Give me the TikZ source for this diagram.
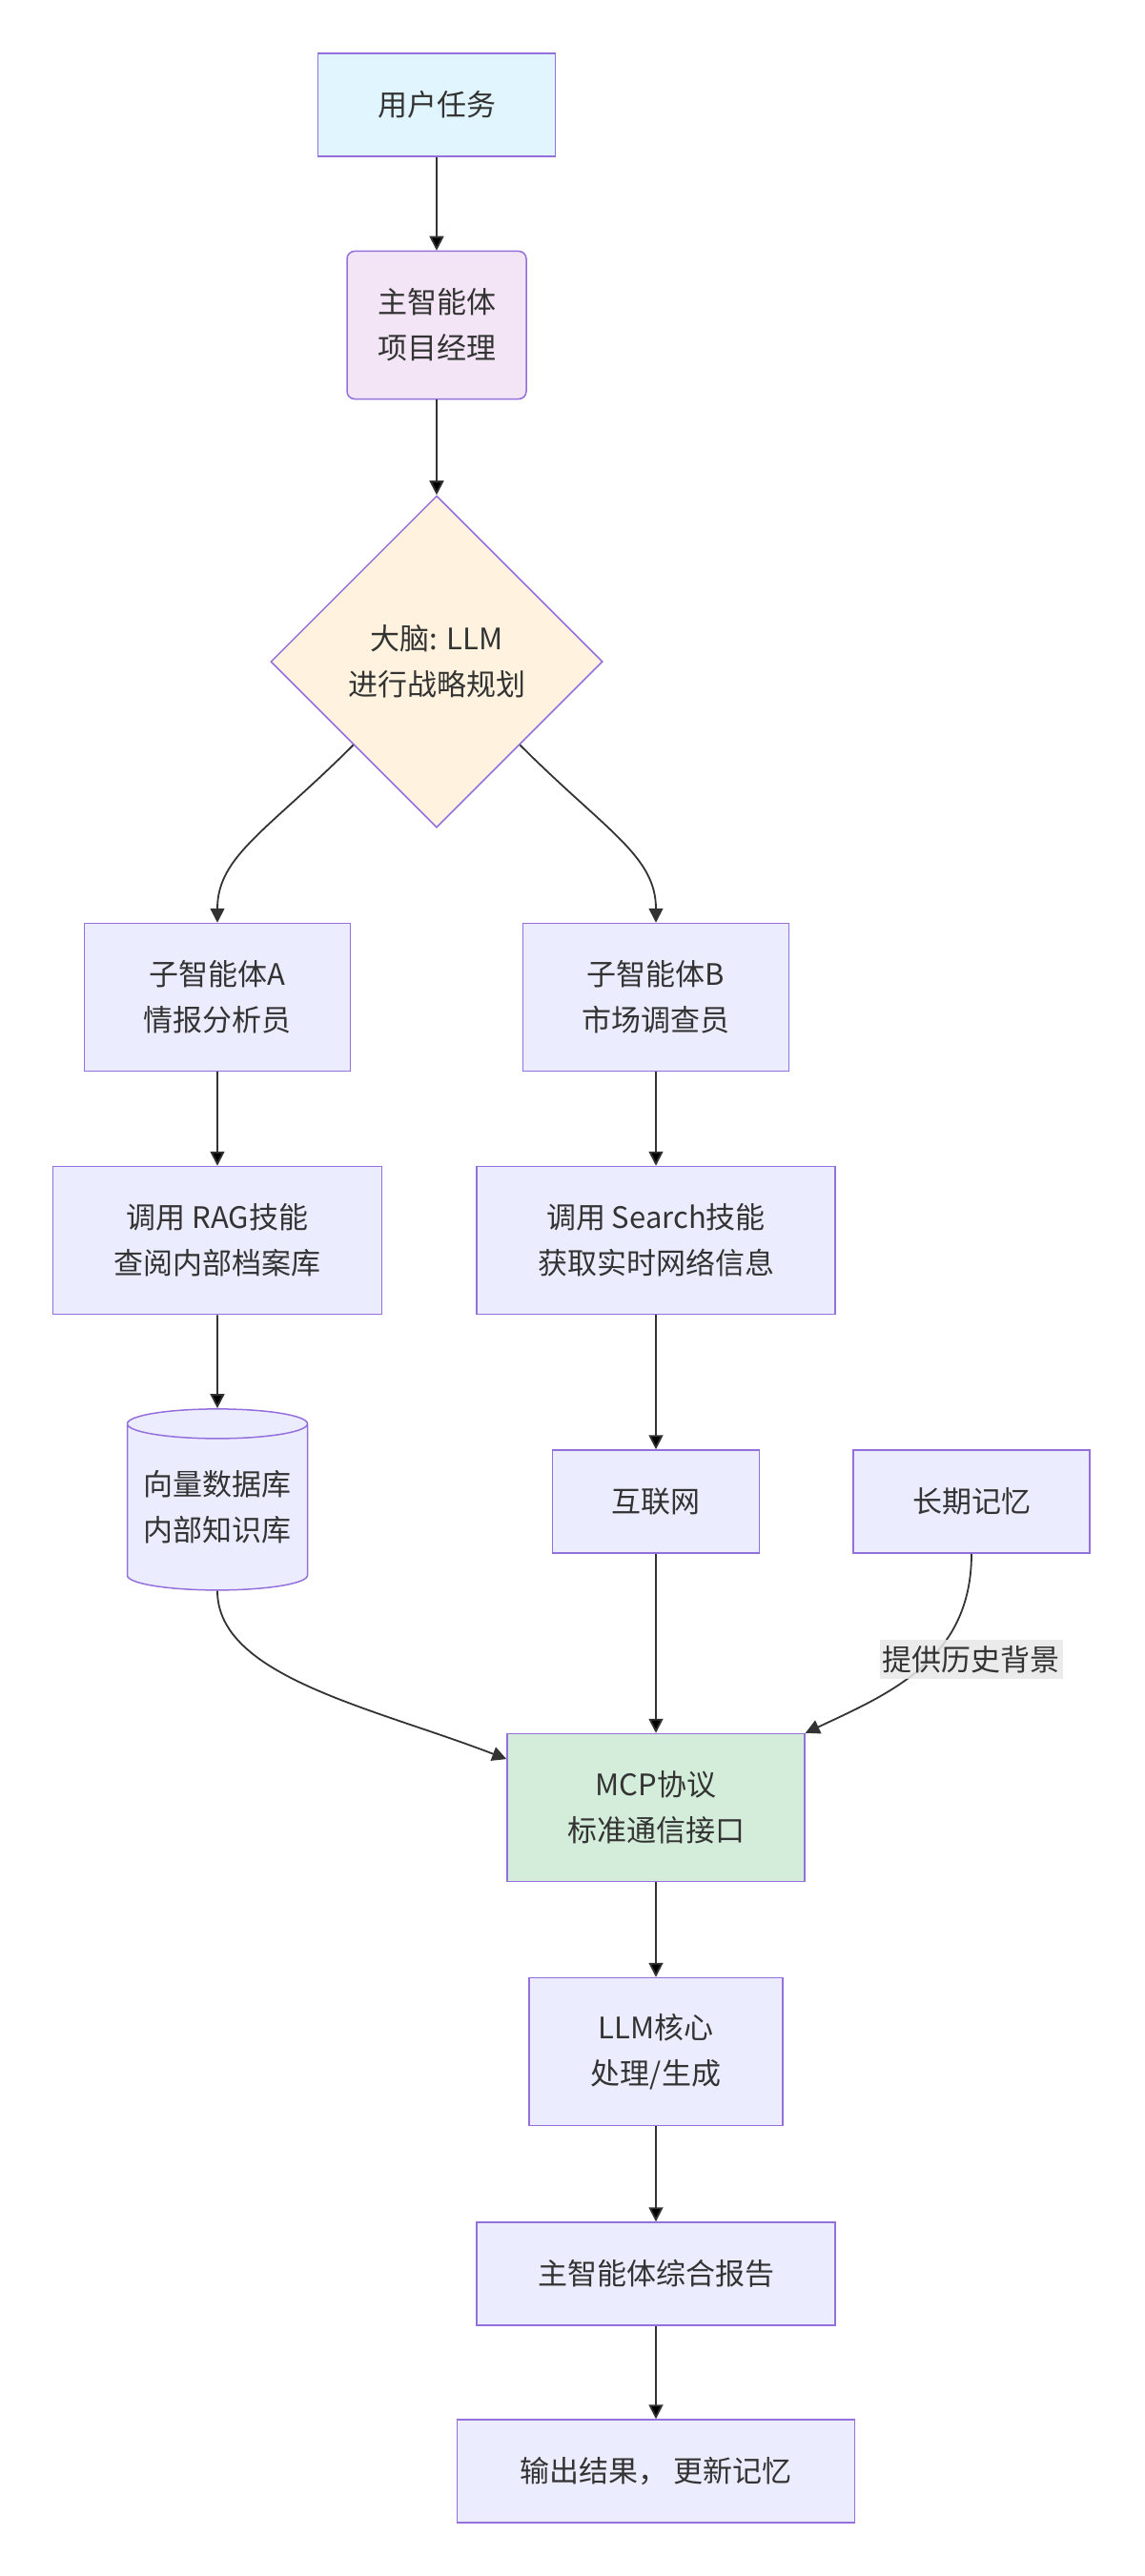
\documentclass[tikz,border=0pt]{standalone}
\usepackage{fontspec}
\setmainfont{Noto Sans CJK SC}
\usepackage{tikz}
\usetikzlibrary{arrows.meta,shapes.geometric,positioning}
\definecolor{boxfill}{HTML}{ECECFF}
\definecolor{boxline}{HTML}{9370DB}
\definecolor{taskfill}{HTML}{E1F5FE}
\definecolor{pmfill}{HTML}{F3E5F5}
\definecolor{brainfill}{HTML}{FFF3E0}
\definecolor{mcpfill}{HTML}{D4EDDA}
\definecolor{labfill}{HTML}{E8E8E8}
\definecolor{ink}{HTML}{333333}

\begin{document}
\begin{tikzpicture}[on grid,>={Triangle[length=7.5pt,width=7.5pt]},
  every node/.style={font=\fontsize{15.5}{24}\selectfont,text=ink,align=center},
  proc/.style={draw=boxline,fill=boxfill,line width=0.75pt,inner sep=0pt,minimum height=77.5pt},
  short/.style={proc,minimum height=54pt},
  usertask/.style={short,fill=taskfill},
  manager/.style={proc,fill=pmfill,rounded corners=4pt},
  brainnode/.style={diamond,aspect=1,draw=boxline,fill=brainfill,line width=0.75pt,inner sep=0pt,minimum width=174pt,minimum height=174pt},
  store/.style={cylinder,shape border rotate=90,shape aspect=0.2,draw=boxline,fill=boxfill,line width=0.75pt,inner sep=0pt,minimum width=94.5pt,minimum height=95pt},
  proto/.style={proc,fill=mcpfill},
  edgelab/.style={fill=labfill,fill opacity=0.85,text opacity=1,inner xsep=1.5pt,inner ysep=3pt},
  link/.style={->,draw=ink,line width=0.9pt}]
  \useasboundingbox (0,0) rectangle (600pt,-1351pt);

  \node[usertask, minimum width=124.5pt] (user) at (229pt,-55pt) {用户任务};
  \node[manager, minimum width=94pt] (pm) [below=115.5pt of user] {主智能体\\项目经理};
  \node[brainnode] (brain) [below=176.5pt of pm] {大脑: LLM\\进行战略规划};

  \node[proc, minimum width=139.5pt] (subA) [below left=176pt and 115pt of brain] {子智能体A\\情报分析员};
  \node[proc, minimum width=139.5pt] (subB) [below right=176pt and 115pt of brain] {子智能体B\\市场调查员};
  \node[proc, minimum width=172.5pt] (rag) [below=127.5pt of subA] {调用 RAG技能\\查阅内部档案库};
  \node[proc, minimum width=188pt] (search) [below=127.5pt of subB] {调用 Search技能\\获取实时网络信息};
  \node[store] (vdb) [below=140pt of rag] {向量数据库\\内部知识库};
  \node[short, minimum width=108.5pt] (net) [below=137pt of search] {互联网};
  \node[short, minimum width=124pt] (mem) [right=165.5pt of net] {长期记忆};

  \node[proto, minimum width=156pt] (mcp) [below=160.5pt of net] {MCP协议\\标准通信接口};
  \node[proc, minimum width=133pt] (core) [below=128pt of mcp] {LLM核心\\处理/生成};
  \node[short, minimum width=188pt] (report) [below=116.5pt of core] {主智能体综合报告};
  \node[short, minimum width=208.5pt] (result) [below=103.5pt of report] {输出结果， 更新记忆};

  \path[link]
    (user) edge (pm)
    (pm) edge (brain)
    (subA) edge (rag)
    (subB) edge (search)
    (rag) edge (vdb)
    (search) edge (net)
    (net) edge (mcp)
    (mcp) edge (core)
    (core) edge (report)
    (report) edge (result);
  % curved connectors
  \draw[link] (brain.south west) .. controls +(-45pt,-45pt) and +(0,35pt) .. (subA.north);
  \draw[link] (brain.south east) .. controls +(45pt,-45pt) and +(0,35pt) .. (subB.north);
  \draw[link] (vdb.south) .. controls +(0,-45pt) and +(-70pt,27pt) .. (mcp.162);
  \draw[link] (mem.south) .. controls +(0,-55pt) and +(45pt,21pt) .. (mcp.north east)
    node[edgelab, pos=0.45, xshift=22pt] {提供历史背景};
\end{tikzpicture}
\end{document}
